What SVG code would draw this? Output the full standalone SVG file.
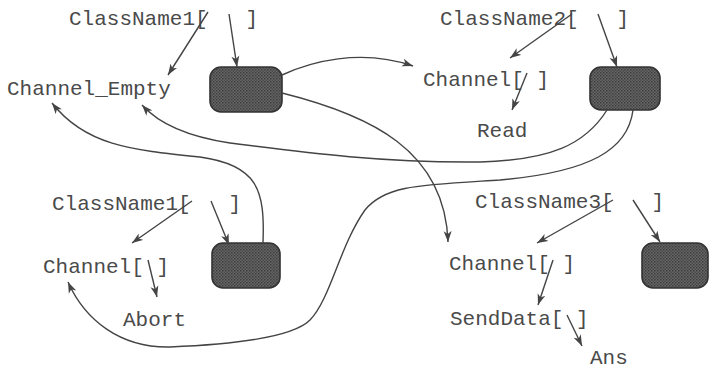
<svg xmlns="http://www.w3.org/2000/svg" width="709" height="371" viewBox="0 0 709 371">
<defs>
<pattern id="hatch" width="3" height="3" patternUnits="userSpaceOnUse">
<rect width="3" height="3" fill="#666"/>
<rect width="1.5" height="1.5" fill="#3e3e3e"/>
<rect x="1.5" y="1.5" width="1.5" height="1.5" fill="#4a4a4a"/>
</pattern>
<marker id="ah" markerWidth="12" markerHeight="9" refX="11" refY="4.5" orient="auto" markerUnits="userSpaceOnUse">
<path d="M0,0.5 L11,4.5 L0,8.5 L3,4.5 z" fill="#444"/>
</marker>
</defs>
<style>
.t{font-family:"Liberation Mono","Courier New",monospace;font-size:21px;fill:#4a4a4a}
.b{fill:url(#hatch);stroke:#333;stroke-width:1.6}
.c{fill:none;stroke:#444;stroke-width:1.4;marker-end:url(#ah)}
</style>
<g id="n-classname1-top"><text class="t" x="69" y="25" xml:space="preserve">ClassName1[   ]</text></g>
<g id="n-channel-empty"><text class="t" x="7" y="95">Channel_Empty</text></g>
<g id="n-box1"><rect class="b" x="210" y="67" width="72" height="45" rx="11"/></g>
<g id="n-classname2"><text class="t" x="440" y="25" xml:space="preserve">ClassName2[   ]</text></g>
<g id="n-channel-top"><text class="t" x="423" y="86" xml:space="preserve">Channel[ ]</text></g>
<g id="n-read"><text class="t" x="477" y="137">Read</text></g>
<g id="n-box2"><rect class="b" x="590" y="67" width="70" height="43" rx="11"/></g>
<g id="n-classname1-bottom"><text class="t" x="52" y="210" xml:space="preserve">ClassName1[   ]</text></g>
<g id="n-channel-bl"><text class="t" x="43" y="273" xml:space="preserve">Channel[ ]</text></g>
<g id="n-abort"><text class="t" x="123" y="326">Abort</text></g>
<g id="n-box3"><rect class="b" x="212" y="243" width="68" height="45" rx="11"/></g>
<g id="n-classname3"><text class="t" x="475" y="208" xml:space="preserve">ClassName3[   ]</text></g>
<g id="n-channel-br"><text class="t" x="449" y="270" xml:space="preserve">Channel[ ]</text></g>
<g id="n-senddata"><text class="t" x="450" y="325" xml:space="preserve">SendData[ ]</text></g>
<g id="n-ans"><text class="t" x="590" y="364">Ans</text></g>
<g id="n-box4"><rect class="b" x="642" y="243" width="66" height="45" rx="11"/></g>
<g id="connectors">
<path class="c" d="M208,12 L168,75"/>
<path class="c" d="M229,14 L237,67"/>
<path class="c" d="M572,14 L510,58"/>
<path class="c" d="M598,14 L617,67"/>
<path class="c" d="M527,73 L512,110"/>
<path class="c" d="M282,75 C310,62 360,48 413,66"/>
<path class="c" d="M282,93 C370,115 445,150 448,242"/>
<path class="c" d="M607,110 C585,145 550,160 480,162 C380,163 300,152 230,143 C190,137 160,125 142,105"/>
<path class="c" d="M633,110 C628,150 590,172 500,180 C420,185 385,185 365,210 C340,245 330,300 310,320 C290,340 220,345 170,347 C120,348 85,320 68,282"/>
<path class="c" d="M263,243 C265,190 258,165 200,157 C130,150 85,145 52,103"/>
<path class="c" d="M192,201 L132,243"/>
<path class="c" d="M211,201 L229,245"/>
<path class="c" d="M148,260 L157,297"/>
<path class="c" d="M613,200 L537,243"/>
<path class="c" d="M633,200 L660,242"/>
<path class="c" d="M553,260 L538,305"/>
<path class="c" d="M567,315 L582,346"/>
</g>
</svg>
